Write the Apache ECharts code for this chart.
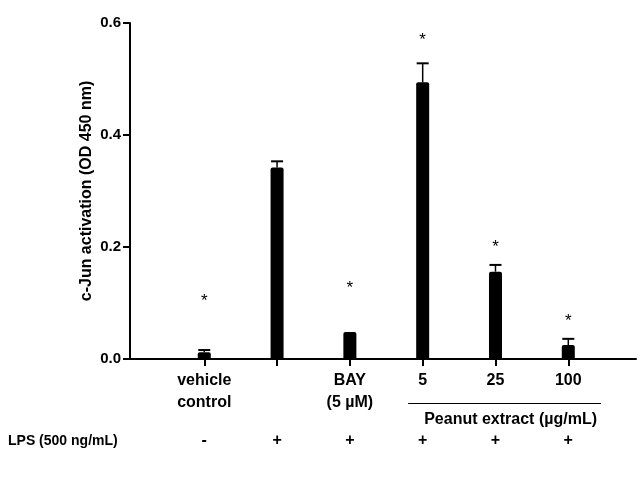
<!DOCTYPE html>
<html>
<head>
<meta charset="utf-8">
<script src="https://cdn.jsdelivr.net/npm/echarts@6/dist/echarts.min.js"></script>
<style>
    html, body { margin: 0; padding: 0; background: #fff; }
    #chart { width: 638px; height: 479px; }
</style>
</head>
<body>
<div id="chart"></div>
<script>
// Data
const categories = ['vehicle\ncontrol', '', 'BAY\n(5 \u00b5M)', '5', '25', '100'];
const meanValues = [0.012, 0.342, 0.048, 0.494, 0.156, 0.025];
const semValues = [0.004, 0.011, 0, 0.034, 0.012, 0.011];
const starLevels = [0.111, null, 0.134, 0.576, 0.207, 0.074];
const lpsSigns = ['-', '+', '+', '+', '+', '+'];

const FONT = 'Arial, "Liberation Sans", sans-serif';
const positions = categories.map((_, i) => i);

const chart = echarts.init(document.getElementById('chart'));

const option = {
    animation: false,
    textStyle: { fontFamily: FONT },
    grid: { left: 130, right: 2, top: 23, bottom: 120 },
    xAxis: [{
        type: 'value',
        min: -1.02,
        max: 5.93,
        position: 'bottom',
        splitLine: { show: false },
        axisLine: { onZero: false, lineStyle: { color: '#000', width: 2 } },
        axisTick: { customValues: positions, length: 7, lineStyle: { color: '#000', width: 2 } },
        axisLabel: {
            customValues: positions,
            formatter: v => categories[Math.round(v)],
            color: '#000',
            fontWeight: 'bold',
            fontSize: 16,
            lineHeight: 22,
            margin: 11
        }
    }, {
        type: 'value',
        min: -1.02,
        max: 5.93,
        position: 'bottom',
        offset: 71,
        splitLine: { show: false },
        axisLine: { show: false, onZero: false },
        axisTick: { show: false },
        axisLabel: {
            customValues: positions,
            formatter: v => lpsSigns[Math.round(v)],
            color: '#000',
            fontWeight: 'bold',
            fontSize: 16,
            lineHeight: 22,
            margin: 0
        }
    }],
    yAxis: {
        type: 'value',
        min: 0,
        max: 0.6,
        interval: 0.2,
        name: 'c-Jun activation (OD 450 nm)',
        nameLocation: 'middle',
        nameGap: 35,
        nameMoveOverlap: false,
        nameTextStyle: { color: '#000', fontWeight: 'bold', fontSize: 16 },
        splitLine: { show: false },
        axisLine: { show: true, onZero: false, lineStyle: { color: '#000', width: 2 } },
        axisTick: { show: true, length: 7, lineStyle: { color: '#000', width: 2 } },
        axisLabel: {
            color: '#000',
            fontWeight: 'bold',
            fontSize: 15,
            margin: 9,
            formatter: v => v.toFixed(1)
        }
    },
    series: [{
        type: 'bar',
        barWidth: 13,
        data: meanValues.map((v, i) => [i, v]),
        itemStyle: { color: '#000', borderRadius: [2, 2, 0, 0] }
    }, {
        // error bars and significance stars
        type: 'custom',
        data: meanValues.map((v, i) => [i, v, semValues[i], starLevels[i]]),
        renderItem: (params, api) => {
            const x = api.value(0);
            const mean = api.value(1);
            const err = api.value(2);
            const star = api.value(3);
            const base = api.coord([x, mean]);
            const top = api.coord([x, mean + err]);
            const children = [];
            if (err > 0) {
                children.push({
                    type: 'line',
                    shape: { x1: base[0], y1: base[1], x2: top[0], y2: top[1] },
                    style: { stroke: '#000', lineWidth: 1.5 }
                });
                children.push({
                    type: 'line',
                    shape: { x1: top[0] - 6, y1: top[1], x2: top[0] + 6, y2: top[1] },
                    style: { stroke: '#000', lineWidth: 2 }
                });
            }
            if (star != null && !isNaN(star)) {
                const s = api.coord([x, star]);
                children.push({
                    type: 'text',
                    x: s[0],
                    y: s[1] + 4,
                    style: {
                        text: '*',
                        fill: '#000',
                        font: '17px ' + FONT,
                        align: 'center',
                        verticalAlign: 'middle'
                    }
                });
            }
            return { type: 'group', children };
        },
        z: 3
    }]
};

chart.setOption(option);

// Annotations below the axis
const lineStart = chart.convertToPixel({ xAxisIndex: 0 }, 2.8);
const lineEnd = chart.convertToPixel({ xAxisIndex: 0 }, 5.45);
chart.setOption({
    graphic: [{
        type: 'line',
        shape: { x1: lineStart, y1: 403.5, x2: lineEnd, y2: 403.5 },
        style: { stroke: '#000', lineWidth: 1 }
    }, {
        type: 'text',
        x: (lineStart + lineEnd) / 2 + 6,
        y: 420,
        style: {
            text: 'Peanut extract (\u00b5g/mL)',
            fill: '#000',
            font: 'bold 16px ' + FONT,
            align: 'center',
            verticalAlign: 'middle'
        }
    }, {
        type: 'text',
        x: 8,
        y: 441,
        style: {
            text: 'LPS (500 ng/mL)',
            fill: '#000',
            font: 'bold 14px ' + FONT,
            align: 'left',
            verticalAlign: 'middle'
        }
    }]
});
</script>
</body>
</html>
